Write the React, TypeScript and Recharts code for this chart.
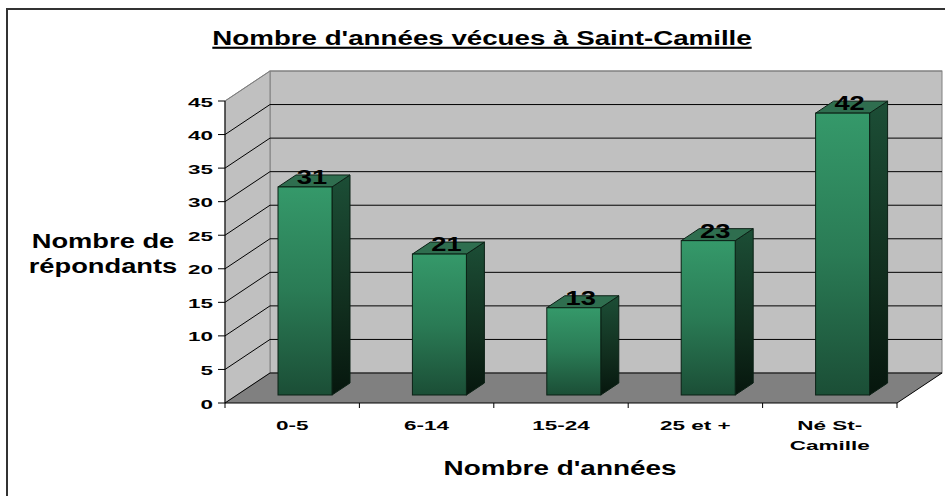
import React from "react";
import { BarChart, Bar, XAxis, YAxis, CartesianGrid, LabelList } from "recharts";

const categories = ["0-5", "6-14", "15-24", "25 et +", "Né St-Camille"];
const tickLines = [["0-5"], ["6-14"], ["15-24"], ["25 et +"], ["Né St-", "Camille"]];
const respondents = [31, 21, 13, 23, 42];
const yTicks = [0, 5, 10, 15, 20, 25, 30, 35, 40, 45];

const chartTitle = "Nombre d'années vécues à Saint-Camille";
const yTitle = ["Nombre de", "répondants"];
const xTitle = "Nombre d'années";

const data = categories.map((c, i) => ({ category: c, value: respondents[i] }));

const FONT = "'Liberation Sans', Arial, sans-serif";
// 3D look: wall depth and bar offset/depth
const WALL_DX = 45;
const WALL_DY = -30;
const BAR_DX = 13;
const BAR_DY = -8;
const BAR_DEPTH_X = 18;
const BAR_DEPTH_Y = 12;

function SText({ x, y, sx, size, anchor = "middle", underline = false, children }: any) {
  return (
    <text
      transform={`translate(${x},${y}) scale(${sx},1)`}
      textAnchor={anchor}
      fontFamily={FONT}
      fontWeight="bold"
      fontSize={size}
      fill="#000"
      textDecoration={underline ? "underline" : undefined}
    >
      {children}
    </text>
  );
}

// draws back wall, side wall and floor, plus the grid lines on the walls
function WallLine(p: any) {
  const { x1, y1, x2, index } = p;
  const x = p.x ?? x1;
  const y = p.y ?? 101;
  const w = p.width ?? x2 - x1;
  const h = p.height ?? 302;
  const isTop = Math.abs(y1 - y) < 0.5;
  const lineColor = isTop ? "#808080" : "#000";
  return (
    <g key={`wall-${index}`}>
      {index === 0 && (
        <g>
          <rect x={x + WALL_DX} y={y + WALL_DY} width={w} height={h} fill="#c0c0c0" stroke="#808080" />
          <polygon
            points={`${x},${y} ${x + WALL_DX},${y + WALL_DY} ${x + WALL_DX},${y + h + WALL_DY} ${x},${y + h}`}
            fill="#c0c0c0"
            stroke="#808080"
          />
          <polygon
            points={`${x},${y + h} ${x + WALL_DX},${y + h + WALL_DY} ${x + w + WALL_DX},${y + h + WALL_DY} ${x + w},${y + h}`}
            fill="#808080"
          />
          <line x1={x + w} y1={y + h} x2={x + w + WALL_DX} y2={y + h + WALL_DY} stroke="#000" />
        </g>
      )}
      <line x1={x1 + WALL_DX} y1={y1 + WALL_DY} x2={x2 + WALL_DX} y2={y1 + WALL_DY} stroke={isTop ? "#808080" : "#000"} />
      <line x1={x1} y1={y1} x2={x1 + WALL_DX} y2={y1 + WALL_DY} stroke={lineColor} />
    </g>
  );
}

function Bar3D(p: any) {
  const { x, y, width, height, index } = p;
  if (x == null || height == null) return null;
  const fx = x + BAR_DX;
  const fy = y + BAR_DY;
  const d = BAR_DEPTH_X;
  const e = BAR_DEPTH_Y;
  const fg = `front-${index}`;
  const sg = `side-${index}`;
  return (
    <g>
      <defs>
        <linearGradient id={fg} x1="0" y1="0" x2="0" y2="1">
          <stop offset="0" stopColor="#35996a" />
          <stop offset="0.5" stopColor="#2a7b55" />
          <stop offset="1" stopColor="#1b4e36" />
        </linearGradient>
        <linearGradient id={sg} x1="0" y1="0" x2="0" y2="1">
          <stop offset="0" stopColor="#1c4e36" />
          <stop offset="0.6" stopColor="#112e1e" />
          <stop offset="1" stopColor="#06160d" />
        </linearGradient>
      </defs>
      <polygon
        points={`${fx + width},${fy} ${fx + width + d},${fy - e} ${fx + width + d},${fy + height - e} ${fx + width},${fy + height}`}
        fill={`url(#${sg})`}
        stroke="#0b2015"
      />
      <polygon
        points={`${fx},${fy} ${fx + d},${fy - e} ${fx + width + d},${fy - e} ${fx + width},${fy}`}
        fill="#2f6e4f"
        stroke="#0b2015"
      />
      <rect x={fx} y={fy} width={width} height={height} fill={`url(#${fg})`} stroke="#0b2015" />
    </g>
  );
}

function BarLabel(p: any) {
  const vb = p.viewBox ?? {};
  const x = p.x ?? vb.x;
  const y = p.y ?? vb.y;
  const width = p.width ?? vb.width;
  if (x == null) return null;
  return (
    <SText x={x + BAR_DX + width / 2 + 7} y={y + BAR_DY - 3} sx={1.4} size={19.5}>
      {p.value}
    </SText>
  );
}

function YTick(p: any) {
  return (
    <SText x={p.x} y={p.y + 5.5} sx={1.8} size={12.5} anchor="end">
      {p.payload.value}
    </SText>
  );
}

function XTick(p: any) {
  const i = p.index ?? p.payload.index;
  const bw = p.width && p.visibleTicksCount ? p.width / p.visibleTicksCount : 134.4;
  const lines = tickLines[i] ?? [p.payload.value];
  const last = i === categories.length - 1;
  return (
    <g>
      <line x1={p.x - bw / 2} y1={p.y} x2={p.x - bw / 2} y2={p.y + 5} stroke="#000" />
      {last && <line x1={p.x + bw / 2} y1={p.y} x2={p.x + bw / 2} y2={p.y + 5} stroke="#000" />}
      {lines.map((t: string, k: number) => (
        <SText key={k} x={p.x} y={p.y + 27 + k * 20} sx={1.8} size={12.5}>
          {t}
        </SText>
      ))}
    </g>
  );
}

export default function App() {
  return (
    <div style={{ position: "absolute", left: 0, top: 0, width: 945, height: 496, background: "#fff", overflow: "hidden" }}>
      <BarChart
        width={945}
        height={496}
        data={data}
        margin={{ top: 101, right: 48, bottom: 0, left: 165 }}
        barSize={54}
      >
        <CartesianGrid vertical={false} horizontal={WallLine} fill="none" />
        <XAxis
          dataKey="category"
          height={93}
          axisLine={{ stroke: "#000" }}
          tickLine={false}
          tickSize={0}
          tickMargin={0}
          interval={0}
          tick={XTick}
        />
        <YAxis
          width={60}
          domain={[0, 45]}
          ticks={yTicks}
          interval={0}
          axisLine={{ stroke: "#000" }}
          tickLine={{ stroke: "#000" }}
          tickSize={7}
          tickMargin={5}
          tick={YTick}
        />
        <Bar dataKey="value" shape={Bar3D} isAnimationActive={false}>
          <LabelList dataKey="value" content={BarLabel} />
        </Bar>
      </BarChart>
      <svg width={945} height={496} style={{ position: "absolute", left: 0, top: 0, pointerEvents: "none" }}>
        <rect x={7} y={9} width={960} height={520} fill="none" stroke="#333" strokeWidth={2} />
        <SText x={482} y={45} sx={1.32} size={21} underline>
          {chartTitle}
        </SText>
        {yTitle.map((t, k) => (
          <SText key={k} x={103} y={248 + k * 25} sx={1.3} size={21}>
            {t}
          </SText>
        ))}
        <SText x={560} y={475} sx={1.33} size={21}>
          {xTitle}
        </SText>
      </svg>
    </div>
  );
}
